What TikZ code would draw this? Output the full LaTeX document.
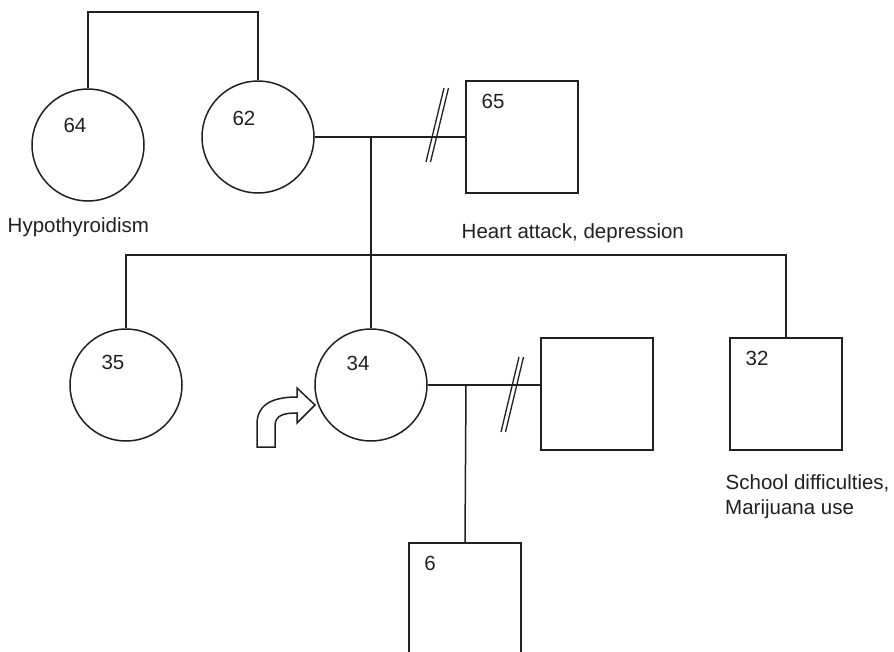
\documentclass[tikz,border=0pt]{standalone}
\usepackage{fontspec}
\setmainfont{Liberation Sans}
\definecolor{ink}{RGB}{35,31,32}
\begin{document}
\begin{tikzpicture}[x=1pt,y=-1pt,
  female/.style={draw=ink, line width=1.5pt, circle, minimum size=112pt, inner sep=0pt},
  male/.style={draw=ink, line width=1.5pt, rectangle, minimum size=112pt, inner sep=0pt},
  num/.style={text=ink, font=\fontsize{20.5}{24}\selectfont, inner sep=0pt},
  note/.style={text=ink, font=\fontsize{20.5}{24}\selectfont, inner sep=0pt, anchor=base west},
  conn/.style={draw=ink, line width=1.5pt},
  slash/.style={draw=ink, line width=1.3pt},
  proband/.style={draw=ink, line width=1.5pt, line join=miter}]
\useasboundingbox (0,0) rectangle (894,651);
\clip (0,0) rectangle (894,651);

% individuals
\node[female] (c64) at (88,145) {};
\node[female] (c62) at (258,137) {};
\node[male]   (s65) at (522,137) {};
\node[female] (c35) at (126,385) {};
\node[female] (c34) at (371,385) {};
\node[male]   (s2)  at (597,394) {};
\node[male]   (s32) at (786,394) {};
\node[male]   (s6)  at (465,599) {};

% ages
\node[num] (n64) at (75,125) {64};
\node[num] (n62) at (244,118) {62};
\node[num] (n65) at (493,101) {65};
\node[num] (n35) at (113,362) {35};
\node[num] (n34) at (358,363) {34};
\node[num] (n32) at (757,358) {32};
\node[num] (n6)  at (430,563) {6};

% notes
\node[note] (hypo)  at (7.5,232) {Hypothyroidism};
\node[note] (heart) at (461.5,238) {Heart attack, depression};
\node[note] (school) at (725.5,489) {School difficulties,};
\node[note] (mari)   at (725,514) {Marijuana use};

% connectors
\coordinate (top) at (170,12);
\draw[conn] (c64.north) |- (top) -| (c62.north);
\draw[conn] (c62.east) -- (c62.east -| s65.west);
\coordinate (m1) at (371,137);
\coordinate (sib) at (371,255);
\draw[conn] (m1) -- (c34.north);
\draw[conn] (c35.north) |- (sib) -| (s32.north);
\draw[conn] (c34.east) -- (c34.east -| s2.west);
\coordinate (m2) at (466,385);
\draw[conn] (m2) -- (s6.north);

% divorce marks
\draw[slash] (444,88) -- (426,162);
\draw[slash] (448.5,88) -- (430.5,162);
\draw[slash] (519,357) -- (501,432);
\draw[slash] (523.5,357) -- (505.5,432);

% proband arrow
\draw[proband] (257,447) -- (257,424)
  .. controls (257,406) and (270,397) .. (297,397)
  -- (297,388) -- (315,405) -- (297,423) -- (297,413)
  .. controls (284,413) and (275,415) .. (275,426)
  -- (275,447) -- cycle;
\end{tikzpicture}
\end{document}
